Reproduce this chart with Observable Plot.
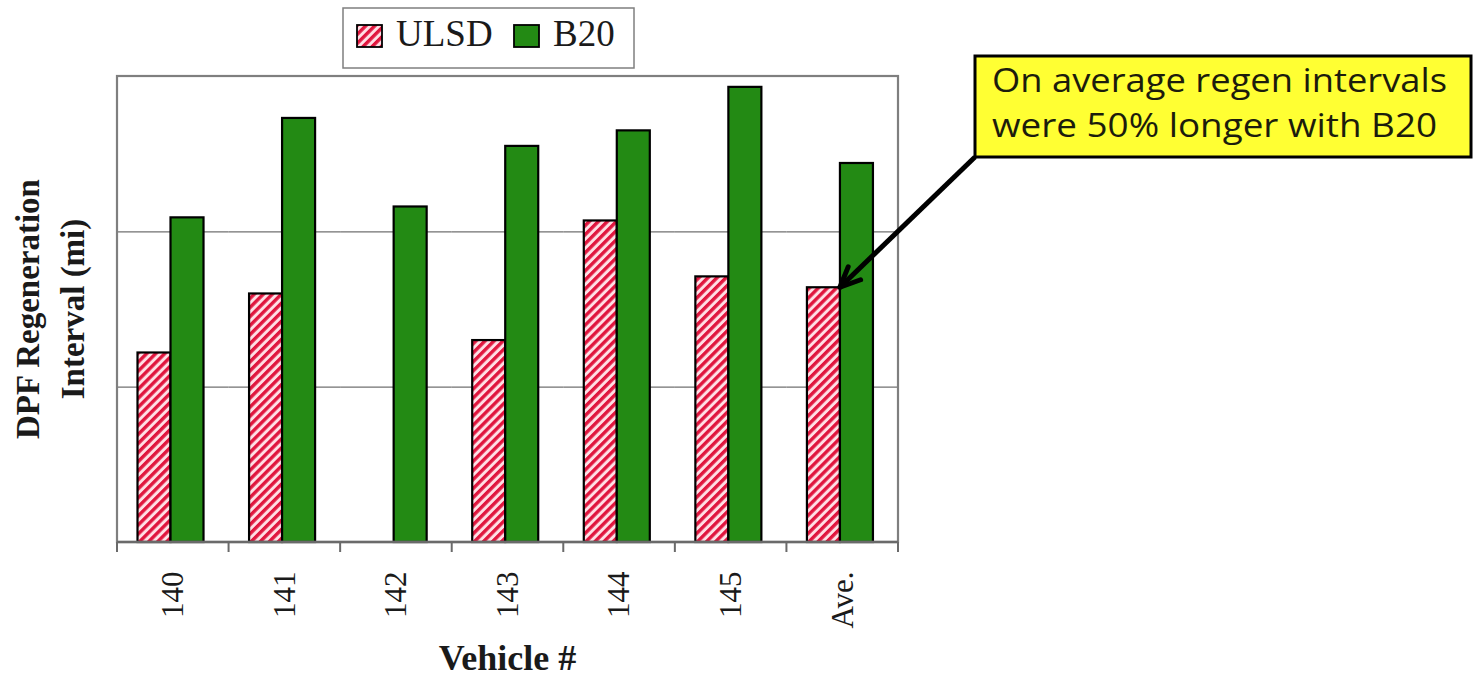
<!DOCTYPE html>
<html><head><meta charset="utf-8">
<script src="https://cdn.jsdelivr.net/npm/d3@7"></script>
<script src="https://cdn.jsdelivr.net/npm/@observablehq/plot@0.6"></script>
<style>body{margin:0;background:#fff}#chart{width:1480px;height:678px}</style>
</head><body><div id="chart"></div>
<script>
// ---- data (y in grid units x100) ----
const vehicles = ["140","141","142","143","144","145","Ave."];
const fuels = ["ULSD","B20"];
const ulsdValues = [122,160,null,130,207,171,164];
const b20Values = [209,273,216,255,265,293,244];
const gridValues = [100,200];
const yMax = 300;
const xTitle = "Vehicle #";
const yTitleLines = ["DPF Regeneration","Interval (mi)"];
const annotationLines = ["On average regen intervals","were 50% longer with B20"];
const annotationTarget = {vehicle:"Ave.", fuel:"ULSD"};

const rows = [];
vehicles.forEach((v,i)=>{
  if (ulsdValues[i] != null) rows.push({vehicle:v, fuel:"ULSD", value:ulsdValues[i]});
  if (b20Values[i] != null) rows.push({vehicle:v, fuel:"B20", value:b20Values[i]});
});

(function(){
const serif = "Liberation Serif, Times New Roman, serif";
const green = "#238a14";

const chart = Plot.plot({
  width:1480, height:678,
  marginLeft:117, marginRight:582, marginTop:76, marginBottom:136,
  style:{background:"transparent", fontFamily:serif, overflow:"visible"},
  fx:{domain:vehicles, padding:0, round:false, label:null},
  x:{domain:fuels, paddingInner:0, paddingOuter:0.69, align:0.45, round:false, axis:null},
  y:{domain:[0,yMax], axis:null},
  color:{domain:fuels, range:["url(#hatchULSD)", green]},
  marks:[
    Plot.gridY(gridValues, {stroke:"#707070", strokeOpacity:1, strokeWidth:1.4}),
    Plot.barY(rows, {fx:"vehicle", x:"fuel", y:"value", fill:"fuel", stroke:"#000", strokeWidth:2.2}),
    Plot.axisFx({anchor:"bottom", tickSize:0, tickPadding:29, tickRotate:-90, fontSize:31, label:null, fill:"#1a1a1a"})
  ]
});
document.getElementById("chart").appendChild(chart);

const svg = d3.select(chart);
const defs = svg.insert("defs", ":first-child");
const pat = defs.append("pattern").attr("id","hatchULSD").attr("patternUnits","userSpaceOnUse")
  .attr("width",6.4).attr("height",6.4).attr("patternTransform","rotate(45)");
pat.append("rect").attr("width",6.4).attr("height",6.4).attr("fill","#ffdfe5");
pat.append("rect").attr("width",3.4).attr("height",6.4).attr("fill","#e0163e");

const fxS = chart.scale("fx"), xS = chart.scale("x"), yS = chart.scale("y"), cS = chart.scale("color");
const x0 = Math.min(...fxS.range), x1 = Math.max(...fxS.range);
const yBot = yS.apply(0), yTop = yS.apply(yMax);
const g = svg.append("g").attr("text-anchor","start");

// frame
g.append("rect").attr("x",x0).attr("y",yTop).attr("width",x1-x0).attr("height",yBot-yTop)
  .attr("fill","none").attr("stroke","#7f7f7f").attr("stroke-width",2.2);
g.append("line").attr("x1",x0).attr("x2",x1).attr("y1",yBot).attr("y2",yBot)
  .attr("stroke","#6a6a6a").attr("stroke-width",2.4);
// category boundary ticks
const edges = vehicles.map(v=>fxS.apply(v)).concat([fxS.apply(vehicles[vehicles.length-1]) + fxS.bandwidth]);
g.selectAll("line.tk").data(edges).join("line").attr("class","tk")
  .attr("x1",d=>d).attr("x2",d=>d).attr("y1",yBot).attr("y2",yBot+10)
  .attr("stroke","#6a6a6a").attr("stroke-width",2);

// axis titles
g.append("text").attr("x",(x0+x1)/2).attr("y",670).attr("text-anchor","middle")
  .attr("font-family",serif).attr("font-weight","bold").attr("font-size",36).attr("fill","#1a1a1a").text(xTitle);
const yc = (yTop+yBot)/2;
[28,73].forEach((xx,i)=>{
  g.append("text").attr("transform",`translate(${xx},${yc}) rotate(-90)`).attr("text-anchor","middle")
    .attr("dominant-baseline","central").attr("font-family",serif).attr("font-weight","bold")
    .attr("font-size",33).attr("fill","#1a1a1a").text(yTitleLines[i]);
});

// legend
const lg = g.append("g");
lg.append("rect").attr("x",343).attr("y",8).attr("width",291).attr("height",60)
  .attr("fill","#fff").attr("stroke","#7f7f7f").attr("stroke-width",1.5);
const legendItems = [{fuel:"ULSD", sx:357, tx:396},{fuel:"B20", sx:514, tx:553}];
legendItems.forEach(it=>{
  lg.append("rect").attr("x",it.sx).attr("y",25).attr("width",25).attr("height",22)
    .attr("fill",cS.apply(it.fuel)).attr("stroke","#000").attr("stroke-width",1.8);
  lg.append("text").attr("x",it.tx).attr("y",46).attr("text-anchor","start").attr("font-family",serif).attr("font-size",37)
    .attr("fill","#1a1a1a").text(it.fuel);
});

// annotation
const tipVal = rows.find(r=>r.vehicle===annotationTarget.vehicle && r.fuel===annotationTarget.fuel).value;
const tipX = fxS.apply(annotationTarget.vehicle) + (xS.apply("B20") - Math.min(...xS.range));
const tipY = yS.apply(tipVal);
const ag = g.append("g");
const sx = 975, sy = 157;
ag.append("line").attr("x1",sx).attr("y1",sy).attr("x2",tipX).attr("y2",tipY)
  .attr("stroke","#000").attr("stroke-width",5);
const ang = Math.atan2(sy-tipY, sx-tipX);
[0.42,-0.42].forEach(da=>{
  ag.append("line").attr("x1",tipX).attr("y1",tipY)
    .attr("x2",tipX+22*Math.cos(ang+da)).attr("y2",tipY+22*Math.sin(ang+da))
    .attr("stroke","#000").attr("stroke-width",5).attr("stroke-linecap","round");
});
ag.append("rect").attr("x",975).attr("y",56).attr("width",496).attr("height",101)
  .attr("fill","#ffff33").attr("stroke","#000").attr("stroke-width",3);
const lens = [455, 445];
annotationLines.forEach((t,i)=>{
  ag.append("text").attr("x",992).attr("y",92+i*45).attr("text-anchor","start")
    .attr("font-family","Open Sans, Lato, sans-serif")
    .attr("font-size",32).attr("fill","#1c1c0c")
    .attr("textLength",lens[i]).attr("lengthAdjust","spacingAndGlyphs").text(t);
});
})();
</script></body></html>
